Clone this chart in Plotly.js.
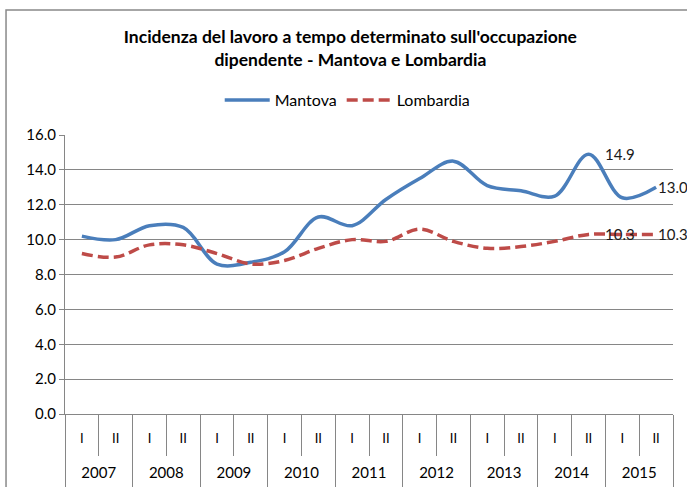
<!DOCTYPE html>
<html>
<head>
<meta charset="utf-8">
<script src="https://cdn.plot.ly/plotly-3.0.1.min.js"></script>
<style>html,body{margin:0;padding:0;background:#fff;}#chart{width:687px;height:487px;}</style>
</head>
<body>
<div id="chart"></div>
<script>
const years = ['2007','2007','2008','2008','2009','2009','2010','2010','2011','2011','2012','2012','2013','2013','2014','2014','2015','2015'];
const semesters = ['I','II','I','II','I','II','I','II','I','II','I','II','I','II','I','II','I','II'];
const mantova = [10.2, 10.0, 10.8, 10.7, 8.6, 8.7, 9.3, 11.3, 10.8, 12.3, 13.5, 14.5, 13.1, 12.8, 12.5, 14.9, 12.4, 13.0];
const lombardia = [9.2, 9.0, 9.7, 9.7, 9.2, 8.6, 8.8, 9.5, 10.0, 9.9, 10.6, 9.9, 9.5, 9.6, 9.9, 10.3, 10.3, 10.3];
const labelledPoints = [15, 17];
const yTicks = [0, 2, 4, 6, 8, 10, 12, 14, 16];

const FONT = 'Lato, "Liberation Sans", Arial, sans-serif';
const keys = years.map((y,i)=> y + ' ' + semesters[i]);
const yearList = years.filter((y,i)=> years.indexOf(y) === i);
const yearCenters = yearList.map((y,i)=> i);
const yearBounds = yearList.map((y,i)=> i - 0.5).concat([yearList.length - 0.5]);

const traces = [
  {x:keys, y:mantova, name:'Mantova', type:'scatter', mode:'lines',
   line:{color:'#4A7EBB', width:3.5, shape:'spline', smoothing:1}},
  {x:keys, y:lombardia, name:'Lombardia', type:'scatter', mode:'lines',
   line:{color:'#BE4B48', width:3.5, dash:'11px,5px', shape:'spline', smoothing:1}},
  {x:yearCenters, y:yearCenters.map(()=>null), xaxis:'x2', yaxis:'y', type:'scatter', mode:'markers',
   showlegend:false, hoverinfo:'skip', marker:{opacity:0}}
];

const annotations = [];
[mantova, lombardia].forEach(series => {
  labelledPoints.forEach(i => {
    annotations.push({x:keys[i], y:series[i], xref:'x', yref:'y', text:series[i].toFixed(1),
      showarrow:false, xanchor:'left', yanchor:'middle', xshift:(i === keys.length - 1 ? 0 : 14),
      font:{family:FONT, size:15, color:'#1a1a1a'}});
  });
});

const layout = {
  width:687, height:487,
  margin:{l:65, r:14, t:135, b:73},
  paper_bgcolor:'#fff', plot_bgcolor:'#fff',
  font:{family:FONT, size:13, color:'#000'},
  title:{text:"<b>Incidenza del lavoro a tempo determinato sull'occupazione<br>dipendente - Mantova e Lombardia</b>",
         font:{family:FONT, size:17.5, color:'#000'}, x:0.51, xanchor:'center', yref:'container', y:0.912, yanchor:'top'},
  showlegend:true,
  legend:{orientation:'h', x:0.465, xanchor:'center', y:1.125, yanchor:'middle',
          font:{family:FONT, size:16, color:'#000'}, itemwidth:45, bgcolor:'rgba(0,0,0,0)'},
  xaxis:{type:'category', range:[-0.5, keys.length - 0.5], tickvals:keys, ticktext:semesters,
         showline:true, linecolor:'#868686', linewidth:1,
         ticks:'outside', tickson:'boundaries', ticklen:41, tickcolor:'#868686',
         ticklabelstandoff:12,
         showgrid:false, tickfont:{family:FONT, size:13, color:'#000'}},
  xaxis2:{overlaying:'x', anchor:'y', side:'bottom', type:'linear',
          range:[-0.5, yearList.length - 0.5], tickmode:'array', tickvals:yearCenters, ticktext:yearList,
          ticks:'', showline:false, showgrid:false, zeroline:false, ticklabelstandoff:48,
          tickfont:{family:FONT, size:15, color:'#000'},
          minor:{tickmode:'array', tickvals:yearBounds, ticks:'outside', ticklen:73, tickcolor:'#868686', tickwidth:1, showgrid:false}},
  yaxis:{range:[0,16], tickvals:yTicks, ticktext:yTicks.map(v=>v.toFixed(1)),
         showgrid:true, gridcolor:'#868686', gridwidth:1, zeroline:false,
         showline:true, linecolor:'#868686', linewidth:1,
         ticks:'outside', ticklen:5, tickcolor:'#868686',
         tickfont:{family:FONT, size:15, color:'#000'}},
  annotations:annotations,
  shapes:[{type:'rect', xref:'paper', yref:'paper', x0:-0.097, x1:1.05, y0:-0.35, y1:1.448,
           line:{color:'#898989', width:1.5}, fillcolor:'rgba(0,0,0,0)'}]
};
Plotly.newPlot('chart', traces, layout, {staticPlot:true, displayModeBar:false});
</script>
</body>
</html>
